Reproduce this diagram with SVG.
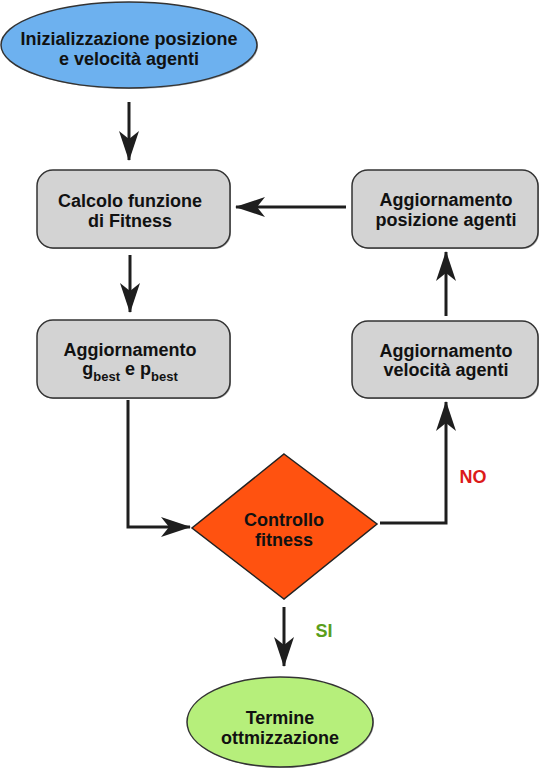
<svg xmlns="http://www.w3.org/2000/svg" width="543" height="768" viewBox="0 0 543 768">
<defs>
<marker id="ah" viewBox="0 0 30 20" refX="29" refY="10" markerWidth="30" markerHeight="20" markerUnits="userSpaceOnUse" orient="auto">
<path d="M0,0 L30,10 L0,20 L8,10 Z" fill="#1e1e1e"/>
</marker>
</defs>
<style>
.lbl{font-family:"Liberation Sans",Arial,sans-serif;font-weight:bold;font-size:18px;fill:#111;text-anchor:middle}
.box{fill:#d3d3d3;stroke:#333;stroke-width:1.5}
.conn{fill:none;stroke:#1e1e1e;stroke-width:3;marker-end:url(#ah)}
.sh{fill:#555;opacity:0.5}
</style>
<rect width="543" height="768" fill="#fff"/>
<g id="connectors">
<path class="conn" d="M129,102 V160"/>
<path class="conn" d="M130,255 V312"/>
<path class="conn" d="M128,400 V527 H190"/>
<path class="conn" d="M380,523 H446 V402"/>
<path class="conn" d="M446,316 V252"/>
<path class="conn" d="M346,207 H236"/>
<path class="conn" d="M284,607 V666"/>
</g>
<g id="start">
<ellipse cx="130" cy="46" rx="128" ry="43" class="sh"/>
<ellipse cx="129" cy="45" rx="128" ry="43" fill="#6db1ef" stroke="#333" stroke-width="1.5"/>
<text class="lbl" x="129" y="45">Inizializzazione posizione</text>
<text class="lbl" x="129" y="65">e velocità agenti</text>
</g>
<g id="fitness">
<rect x="38" y="171" width="193" height="78" rx="16" class="sh"/>
<rect x="37" y="170" width="193" height="78" rx="16" class="box"/>
<text class="lbl" x="130" y="207">Calcolo funzione</text>
<text class="lbl" x="130" y="227">di Fitness</text>
</g>
<g id="best">
<rect x="38" y="321" width="193" height="78" rx="16" class="sh"/>
<rect x="37" y="320" width="193" height="78" rx="16" class="box"/>
<text class="lbl" x="130" y="356">Aggiornamento</text>
<text class="lbl" x="130" y="375">g<tspan font-size="13" dy="6">best</tspan><tspan dy="-6"> e p</tspan><tspan font-size="13" dy="6">best</tspan></text>
</g>
<g id="posizione">
<rect x="353" y="171" width="186" height="78" rx="16" class="sh"/>
<rect x="352" y="170" width="186" height="78" rx="16" class="box"/>
<text class="lbl" x="446" y="206">Aggiornamento</text>
<text class="lbl" x="446" y="226">posizione agenti</text>
</g>
<g id="velocita">
<rect x="353" y="322" width="186" height="77" rx="16" class="sh"/>
<rect x="352" y="321" width="186" height="77" rx="16" class="box"/>
<text class="lbl" x="446" y="357">Aggiornamento</text>
<text class="lbl" x="446" y="376">velocità agenti</text>
</g>
<g id="controllo">
<polygon points="284,454 377,524 284,599 192,528" fill="#ff5210" stroke="#222" stroke-width="1.5"/>
<text class="lbl" x="284" y="526">Controllo</text>
<text class="lbl" x="284" y="546">fitness</text>
</g>
<g id="labels">
<text class="lbl" x="473" y="483" style="fill:#dc1a1a">NO</text>
<text class="lbl" x="324" y="637" style="fill:#5a9e1c">SI</text>
</g>
<g id="fine">
<ellipse cx="281" cy="723" rx="93" ry="45" class="sh"/>
<ellipse cx="280" cy="722" rx="93" ry="45" fill="#b6ef7b" stroke="#333" stroke-width="1.5"/>
<text class="lbl" x="280" y="724">Termine</text>
<text class="lbl" x="280" y="744">ottmizzazione</text>
</g>
</svg>
